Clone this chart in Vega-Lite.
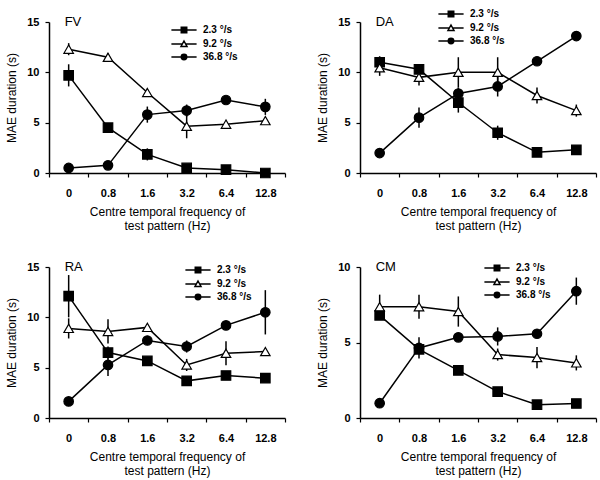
{
  "$schema": "https://vega.github.io/schema/vega-lite/v6.json",
  "padding": {"left": 5, "top": 9, "right": 5, "bottom": 5},
  "background": "white",
  "spacing": 30,
  "config": {
    "view": {"stroke": null},
    "font": "Liberation Sans",
    "axis": {
      "grid": false,
      "domainColor": "black",
      "domainWidth": 1.5,
      "tickColor": "black",
      "tickWidth": 1.2,
      "labelColor": "black",
      "labelFont": "Liberation Sans",
      "labelFontSize": 11,
      "labelFontWeight": "bold",
      "titleColor": "black",
      "titleFont": "Liberation Sans",
      "titleFontSize": 12,
      "titleFontWeight": "normal"
    },
    "legend": {
      "labelFont": "Liberation Sans",
      "labelFontSize": 10,
      "labelFontWeight": "bold",
      "labelColor": "black",
      "padding": 0,
      "rowPadding": 1,
      "symbolSize": 30,
      "symbolStrokeWidth": 1.5,
      "symbolOpacity": 1,
      "labelOffset": 14,
      "title": null,
      "orient": "none"
    }
  },
  "data": {
    "values": [
      {"subject": "FV", "tf": "0", "speed": "2.3 °/s", "mae": 9.7, "err": 1.1},
      {"subject": "FV", "tf": "0.8", "speed": "2.3 °/s", "mae": 4.5, "err": 0},
      {"subject": "FV", "tf": "1.6", "speed": "2.3 °/s", "mae": 1.85, "err": 0.6},
      {"subject": "FV", "tf": "3.2", "speed": "2.3 °/s", "mae": 0.5, "err": 0},
      {"subject": "FV", "tf": "6.4", "speed": "2.3 °/s", "mae": 0.33, "err": 0},
      {"subject": "FV", "tf": "12.8", "speed": "2.3 °/s", "mae": 0.0, "err": 0},
      {"subject": "FV", "tf": "0", "speed": "9.2 °/s", "mae": 12.3, "err": 0.6},
      {"subject": "FV", "tf": "0.8", "speed": "9.2 °/s", "mae": 11.5, "err": 0.4},
      {"subject": "FV", "tf": "1.6", "speed": "9.2 °/s", "mae": 8.0, "err": 0},
      {"subject": "FV", "tf": "3.2", "speed": "9.2 °/s", "mae": 4.65, "err": 1.2},
      {"subject": "FV", "tf": "6.4", "speed": "9.2 °/s", "mae": 4.85, "err": 0},
      {"subject": "FV", "tf": "12.8", "speed": "9.2 °/s", "mae": 5.2, "err": 0.3},
      {"subject": "FV", "tf": "0", "speed": "36.8 °/s", "mae": 0.5, "err": 0},
      {"subject": "FV", "tf": "0.8", "speed": "36.8 °/s", "mae": 0.76, "err": 0.4},
      {"subject": "FV", "tf": "1.6", "speed": "36.8 °/s", "mae": 5.8, "err": 0.8},
      {"subject": "FV", "tf": "3.2", "speed": "36.8 °/s", "mae": 6.2, "err": 0.6},
      {"subject": "FV", "tf": "6.4", "speed": "36.8 °/s", "mae": 7.25, "err": 0.3},
      {"subject": "FV", "tf": "12.8", "speed": "36.8 °/s", "mae": 6.57, "err": 0.8},

      {"subject": "DA", "tf": "0", "speed": "2.3 °/s", "mae": 11.0, "err": 0.6},
      {"subject": "DA", "tf": "0.8", "speed": "2.3 °/s", "mae": 10.3, "err": 0.4},
      {"subject": "DA", "tf": "1.6", "speed": "2.3 °/s", "mae": 7.0, "err": 1.0},
      {"subject": "DA", "tf": "3.2", "speed": "2.3 °/s", "mae": 4.0, "err": 0.7},
      {"subject": "DA", "tf": "6.4", "speed": "2.3 °/s", "mae": 2.05, "err": 0},
      {"subject": "DA", "tf": "12.8", "speed": "2.3 °/s", "mae": 2.3, "err": 0},
      {"subject": "DA", "tf": "0", "speed": "9.2 °/s", "mae": 10.45, "err": 0.8},
      {"subject": "DA", "tf": "0.8", "speed": "9.2 °/s", "mae": 9.5, "err": 0.8},
      {"subject": "DA", "tf": "1.6", "speed": "9.2 °/s", "mae": 10.0, "err": 1.5},
      {"subject": "DA", "tf": "3.2", "speed": "9.2 °/s", "mae": 10.0, "err": 1.5},
      {"subject": "DA", "tf": "6.4", "speed": "9.2 °/s", "mae": 7.7, "err": 0.8},
      {"subject": "DA", "tf": "12.8", "speed": "9.2 °/s", "mae": 6.2, "err": 0.6},
      {"subject": "DA", "tf": "0", "speed": "36.8 °/s", "mae": 1.98, "err": 0},
      {"subject": "DA", "tf": "0.8", "speed": "36.8 °/s", "mae": 5.5, "err": 1.0},
      {"subject": "DA", "tf": "1.6", "speed": "36.8 °/s", "mae": 7.9, "err": 0.6},
      {"subject": "DA", "tf": "3.2", "speed": "36.8 °/s", "mae": 8.6, "err": 1.0},
      {"subject": "DA", "tf": "6.4", "speed": "36.8 °/s", "mae": 11.1, "err": 0.3},
      {"subject": "DA", "tf": "12.8", "speed": "36.8 °/s", "mae": 13.6, "err": 0},

      {"subject": "RA", "tf": "0", "speed": "2.3 °/s", "mae": 12.1, "err": 2.1},
      {"subject": "RA", "tf": "0.8", "speed": "2.3 °/s", "mae": 6.5, "err": 0.6},
      {"subject": "RA", "tf": "1.6", "speed": "2.3 °/s", "mae": 5.67, "err": 0.4},
      {"subject": "RA", "tf": "3.2", "speed": "2.3 °/s", "mae": 3.69, "err": 0},
      {"subject": "RA", "tf": "6.4", "speed": "2.3 °/s", "mae": 4.22, "err": 0},
      {"subject": "RA", "tf": "12.8", "speed": "2.3 °/s", "mae": 3.96, "err": 0},
      {"subject": "RA", "tf": "0", "speed": "9.2 °/s", "mae": 8.9, "err": 1.0},
      {"subject": "RA", "tf": "0.8", "speed": "9.2 °/s", "mae": 8.6, "err": 1.2},
      {"subject": "RA", "tf": "1.6", "speed": "9.2 °/s", "mae": 9.0, "err": 0},
      {"subject": "RA", "tf": "3.2", "speed": "9.2 °/s", "mae": 5.27, "err": 0.6},
      {"subject": "RA", "tf": "6.4", "speed": "9.2 °/s", "mae": 6.43, "err": 1.2},
      {"subject": "RA", "tf": "12.8", "speed": "9.2 °/s", "mae": 6.6, "err": 0},
      {"subject": "RA", "tf": "0", "speed": "36.8 °/s", "mae": 1.65, "err": 0},
      {"subject": "RA", "tf": "0.8", "speed": "36.8 °/s", "mae": 5.27, "err": 1.1},
      {"subject": "RA", "tf": "1.6", "speed": "36.8 °/s", "mae": 7.7, "err": 0},
      {"subject": "RA", "tf": "3.2", "speed": "36.8 °/s", "mae": 7.1, "err": 0.6},
      {"subject": "RA", "tf": "6.4", "speed": "36.8 °/s", "mae": 9.2, "err": 0.4},
      {"subject": "RA", "tf": "12.8", "speed": "36.8 °/s", "mae": 10.5, "err": 2.2},

      {"subject": "CM", "tf": "0", "speed": "2.3 °/s", "mae": 6.8, "err": 0},
      {"subject": "CM", "tf": "0.8", "speed": "2.3 °/s", "mae": 4.55, "err": 0},
      {"subject": "CM", "tf": "1.6", "speed": "2.3 °/s", "mae": 3.15, "err": 0.3},
      {"subject": "CM", "tf": "3.2", "speed": "2.3 °/s", "mae": 1.75, "err": 0.2},
      {"subject": "CM", "tf": "6.4", "speed": "2.3 °/s", "mae": 0.88, "err": 0},
      {"subject": "CM", "tf": "12.8", "speed": "2.3 °/s", "mae": 0.96, "err": 0},
      {"subject": "CM", "tf": "0", "speed": "9.2 °/s", "mae": 7.37, "err": 0.8},
      {"subject": "CM", "tf": "0.8", "speed": "9.2 °/s", "mae": 7.37, "err": 0.8},
      {"subject": "CM", "tf": "1.6", "speed": "9.2 °/s", "mae": 7.05, "err": 1.0},
      {"subject": "CM", "tf": "3.2", "speed": "9.2 °/s", "mae": 4.2, "err": 0.4},
      {"subject": "CM", "tf": "6.4", "speed": "9.2 °/s", "mae": 4.0, "err": 0.7},
      {"subject": "CM", "tf": "12.8", "speed": "9.2 °/s", "mae": 3.65, "err": 0.5},
      {"subject": "CM", "tf": "0", "speed": "36.8 °/s", "mae": 0.98, "err": 0},
      {"subject": "CM", "tf": "0.8", "speed": "36.8 °/s", "mae": 4.64, "err": 0.7},
      {"subject": "CM", "tf": "1.6", "speed": "36.8 °/s", "mae": 5.34, "err": 0},
      {"subject": "CM", "tf": "3.2", "speed": "36.8 °/s", "mae": 5.4, "err": 0.6},
      {"subject": "CM", "tf": "6.4", "speed": "36.8 °/s", "mae": 5.58, "err": 0},
      {"subject": "CM", "tf": "12.8", "speed": "36.8 °/s", "mae": 8.4, "err": 0.9}
    ]
  },
  "vconcat": [
    {
      "spacing": 30,
      "resolve": {"scale": {"y": "independent", "shape": "independent", "fill": "independent"}},
      "hconcat": [
        {
          "width": 236, "height": 151,
          "transform": [{"filter": "datum.subject === 'FV'"}],
          "resolve": {"scale": {"shape": "independent", "fill": "independent"}},
          "encoding": {
            "x": {"field": "tf", "type": "nominal", "sort": null,
              "scale": {"type": "band", "domain": ["0", "0.8", "1.6", "3.2", "6.4", "12.8"], "paddingInner": 0, "paddingOuter": 0},
              "axis": {"labelAngle": 0, "tickBand": "extent", "tickSize": 4, "labelPadding": 10, "titlePadding": 8, "title": ["Centre temporal frequency of", "test pattern (Hz)"]}},
            "y": {"field": "mae", "type": "quantitative",
              "scale": {"domain": [0, 15], "nice": false},
              "axis": {"values": [0, 5, 10, 15], "tickSize": 4, "labelPadding": 6, "titlePadding": 8, "title": "MAE duration (s)"}}
          },
          "layer": [
            {"mark": {"type": "errorbar", "ticks": false, "rule": {"color": "black", "strokeWidth": 1.5}}, "encoding": {"yError": {"field": "err"}}},
            {"mark": {"type": "line", "color": "black", "strokeWidth": 1.5}, "encoding": {"detail": {"field": "speed"}}},
            {"mark": {"type": "point", "filled": true, "stroke": "black", "strokeWidth": 1.2, "size": 90, "opacity": 1},
              "encoding": {
                "shape": {"field": "speed", "type": "nominal", "sort": "ascending", "scale": {"range": ["square", "circle", "triangle-up"]}, "legend": null},
                "fill": {"field": "speed", "type": "nominal", "sort": "ascending", "scale": {"range": ["black", "black", "white"]}, "legend": null}
              }},
            {"data": {"values": []},
              "mark": {"type": "point", "filled": true, "stroke": "black", "strokeWidth": 1.5},
              "encoding": {
                "shape": {"field": "speed", "type": "nominal",
                  "scale": {"domain": ["2.3 °/s", "9.2 °/s", "36.8 °/s"], "range": ["M-4.6,0H-1M1,0H4.6M-1,-1H1V1H-1Z", "M-4.6,0H-0.56M0.56,0H4.6M0,-1.1L1.1,0.9H-1.1Z", "M-4.6,0H-1M1,0H4.6M1,0A1,1,0,1,1,-1,0A1,1,0,1,1,1,0Z"]},
                  "legend": {"legendX": 130, "legendY": 3}},
                "fill": {"field": "speed", "type": "nominal",
                  "scale": {"domain": ["2.3 °/s", "9.2 °/s", "36.8 °/s"], "range": ["black", "white", "black"]},
                  "legend": {"legendX": 130, "legendY": 3}}
              }},
            {"data": {"values": [{"label": "FV", "subject": "FV", "tf": "0", "mae": 15}]},
              "mark": {"type": "text", "align": "left", "baseline": "middle", "dx": -4, "fontSize": 13, "font": "Liberation Sans", "color": "black"},
              "encoding": {"text": {"field": "label"}}}
          ]
        },
        {
          "width": 236, "height": 151,
          "transform": [{"filter": "datum.subject === 'DA'"}],
          "resolve": {"scale": {"shape": "independent", "fill": "independent"}},
          "encoding": {
            "x": {"field": "tf", "type": "nominal", "sort": null,
              "scale": {"type": "band", "domain": ["0", "0.8", "1.6", "3.2", "6.4", "12.8"], "paddingInner": 0, "paddingOuter": 0},
              "axis": {"labelAngle": 0, "tickBand": "extent", "tickSize": 4, "labelPadding": 10, "titlePadding": 8, "title": ["Centre temporal frequency of", "test pattern (Hz)"]}},
            "y": {"field": "mae", "type": "quantitative",
              "scale": {"domain": [0, 15], "nice": false},
              "axis": {"values": [0, 5, 10, 15], "tickSize": 4, "labelPadding": 6, "titlePadding": 8, "title": "MAE duration (s)"}}
          },
          "layer": [
            {"mark": {"type": "errorbar", "ticks": false, "rule": {"color": "black", "strokeWidth": 1.5}}, "encoding": {"yError": {"field": "err"}}},
            {"mark": {"type": "line", "color": "black", "strokeWidth": 1.5}, "encoding": {"detail": {"field": "speed"}}},
            {"mark": {"type": "point", "filled": true, "stroke": "black", "strokeWidth": 1.2, "size": 90, "opacity": 1},
              "encoding": {
                "shape": {"field": "speed", "type": "nominal", "sort": "ascending", "scale": {"range": ["square", "circle", "triangle-up"]}, "legend": null},
                "fill": {"field": "speed", "type": "nominal", "sort": "ascending", "scale": {"range": ["black", "black", "white"]}, "legend": null}
              }},
            {"data": {"values": []},
              "mark": {"type": "point", "filled": true, "stroke": "black", "strokeWidth": 1.5},
              "encoding": {
                "shape": {"field": "speed", "type": "nominal",
                  "scale": {"domain": ["2.3 °/s", "9.2 °/s", "36.8 °/s"], "range": ["M-4.6,0H-1M1,0H4.6M-1,-1H1V1H-1Z", "M-4.6,0H-0.56M0.56,0H4.6M0,-1.1L1.1,0.9H-1.1Z", "M-4.6,0H-1M1,0H4.6M1,0A1,1,0,1,1,-1,0A1,1,0,1,1,1,0Z"]},
                  "legend": {"legendX": 86, "legendY": -13}},
                "fill": {"field": "speed", "type": "nominal",
                  "scale": {"domain": ["2.3 °/s", "9.2 °/s", "36.8 °/s"], "range": ["black", "white", "black"]},
                  "legend": {"legendX": 86, "legendY": -13}}
              }},
            {"data": {"values": [{"label": "DA", "subject": "DA", "tf": "0", "mae": 15}]},
              "mark": {"type": "text", "align": "left", "baseline": "middle", "dx": -4, "fontSize": 13, "font": "Liberation Sans", "color": "black"},
              "encoding": {"text": {"field": "label"}}}
          ]
        }
      ]
    },
    {
      "spacing": 30,
      "resolve": {"scale": {"y": "independent", "shape": "independent", "fill": "independent"}},
      "hconcat": [
        {
          "width": 236, "height": 151,
          "transform": [{"filter": "datum.subject === 'RA'"}],
          "resolve": {"scale": {"shape": "independent", "fill": "independent"}},
          "encoding": {
            "x": {"field": "tf", "type": "nominal", "sort": null,
              "scale": {"type": "band", "domain": ["0", "0.8", "1.6", "3.2", "6.4", "12.8"], "paddingInner": 0, "paddingOuter": 0},
              "axis": {"labelAngle": 0, "tickBand": "extent", "tickSize": 4, "labelPadding": 10, "titlePadding": 8, "title": ["Centre temporal frequency of", "test pattern (Hz)"]}},
            "y": {"field": "mae", "type": "quantitative",
              "scale": {"domain": [0, 15], "nice": false},
              "axis": {"values": [0, 5, 10, 15], "tickSize": 4, "labelPadding": 6, "titlePadding": 8, "title": "MAE duration (s)"}}
          },
          "layer": [
            {"mark": {"type": "errorbar", "ticks": false, "rule": {"color": "black", "strokeWidth": 1.5}}, "encoding": {"yError": {"field": "err"}}},
            {"mark": {"type": "line", "color": "black", "strokeWidth": 1.5}, "encoding": {"detail": {"field": "speed"}}},
            {"mark": {"type": "point", "filled": true, "stroke": "black", "strokeWidth": 1.2, "size": 90, "opacity": 1},
              "encoding": {
                "shape": {"field": "speed", "type": "nominal", "sort": "ascending", "scale": {"range": ["square", "circle", "triangle-up"]}, "legend": null},
                "fill": {"field": "speed", "type": "nominal", "sort": "ascending", "scale": {"range": ["black", "black", "white"]}, "legend": null}
              }},
            {"data": {"values": []},
              "mark": {"type": "point", "filled": true, "stroke": "black", "strokeWidth": 1.5},
              "encoding": {
                "shape": {"field": "speed", "type": "nominal",
                  "scale": {"domain": ["2.3 °/s", "9.2 °/s", "36.8 °/s"], "range": ["M-4.6,0H-1M1,0H4.6M-1,-1H1V1H-1Z", "M-4.6,0H-0.56M0.56,0H4.6M0,-1.1L1.1,0.9H-1.1Z", "M-4.6,0H-1M1,0H4.6M1,0A1,1,0,1,1,-1,0A1,1,0,1,1,1,0Z"]},
                  "legend": {"legendX": 144, "legendY": -2}},
                "fill": {"field": "speed", "type": "nominal",
                  "scale": {"domain": ["2.3 °/s", "9.2 °/s", "36.8 °/s"], "range": ["black", "white", "black"]},
                  "legend": {"legendX": 144, "legendY": -2}}
              }},
            {"data": {"values": [{"label": "RA", "subject": "RA", "tf": "0", "mae": 15}]},
              "mark": {"type": "text", "align": "left", "baseline": "middle", "dx": -4, "fontSize": 13, "font": "Liberation Sans", "color": "black"},
              "encoding": {"text": {"field": "label"}}}
          ]
        },
        {
          "width": 236, "height": 151,
          "transform": [{"filter": "datum.subject === 'CM'"}],
          "resolve": {"scale": {"shape": "independent", "fill": "independent"}},
          "encoding": {
            "x": {"field": "tf", "type": "nominal", "sort": null,
              "scale": {"type": "band", "domain": ["0", "0.8", "1.6", "3.2", "6.4", "12.8"], "paddingInner": 0, "paddingOuter": 0},
              "axis": {"labelAngle": 0, "tickBand": "extent", "tickSize": 4, "labelPadding": 10, "titlePadding": 8, "title": ["Centre temporal frequency of", "test pattern (Hz)"]}},
            "y": {"field": "mae", "type": "quantitative",
              "scale": {"domain": [0, 10], "nice": false},
              "axis": {"values": [0, 5, 10], "tickSize": 4, "labelPadding": 6, "titlePadding": 8, "title": "MAE duration (s)"}}
          },
          "layer": [
            {"mark": {"type": "errorbar", "ticks": false, "rule": {"color": "black", "strokeWidth": 1.5}}, "encoding": {"yError": {"field": "err"}}},
            {"mark": {"type": "line", "color": "black", "strokeWidth": 1.5}, "encoding": {"detail": {"field": "speed"}}},
            {"mark": {"type": "point", "filled": true, "stroke": "black", "strokeWidth": 1.2, "size": 90, "opacity": 1},
              "encoding": {
                "shape": {"field": "speed", "type": "nominal", "sort": "ascending", "scale": {"range": ["square", "circle", "triangle-up"]}, "legend": null},
                "fill": {"field": "speed", "type": "nominal", "sort": "ascending", "scale": {"range": ["black", "black", "white"]}, "legend": null}
              }},
            {"data": {"values": []},
              "mark": {"type": "point", "filled": true, "stroke": "black", "strokeWidth": 1.5},
              "encoding": {
                "shape": {"field": "speed", "type": "nominal",
                  "scale": {"domain": ["2.3 °/s", "9.2 °/s", "36.8 °/s"], "range": ["M-4.6,0H-1M1,0H4.6M-1,-1H1V1H-1Z", "M-4.6,0H-0.56M0.56,0H4.6M0,-1.1L1.1,0.9H-1.1Z", "M-4.6,0H-1M1,0H4.6M1,0A1,1,0,1,1,-1,0A1,1,0,1,1,1,0Z"]},
                  "legend": {"legendX": 132, "legendY": -4}},
                "fill": {"field": "speed", "type": "nominal",
                  "scale": {"domain": ["2.3 °/s", "9.2 °/s", "36.8 °/s"], "range": ["black", "white", "black"]},
                  "legend": {"legendX": 132, "legendY": -4}}
              }},
            {"data": {"values": [{"label": "CM", "subject": "CM", "tf": "0", "mae": 10}]},
              "mark": {"type": "text", "align": "left", "baseline": "middle", "dx": -4, "fontSize": 13, "font": "Liberation Sans", "color": "black"},
              "encoding": {"text": {"field": "label"}}}
          ]
        }
      ]
    }
  ],
  "resolve": {"scale": {"y": "independent", "shape": "independent", "fill": "independent"}}
}
